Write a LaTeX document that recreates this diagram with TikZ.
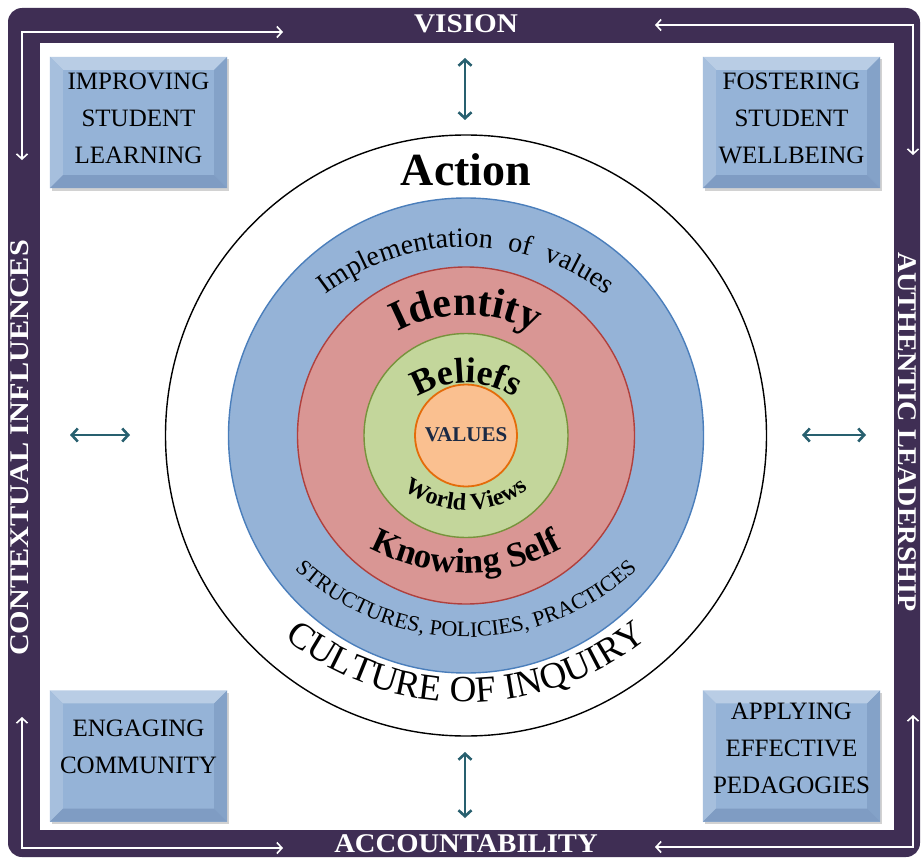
\documentclass[tikz,border=0pt]{standalone}
\usepackage{fontspec}
\setmainfont{Liberation Serif}
\usetikzlibrary{arrows.meta,decorations.text,shadows}
\definecolor{framepurple}{HTML}{3F2E54}
\definecolor{boxface}{HTML}{95B3D7}
\definecolor{bevtop}{HTML}{B9CDE5}
\definecolor{bevleft}{HTML}{A6BFDD}
\definecolor{bevright}{HTML}{84A2C8}
\definecolor{bevbot}{HTML}{7F9CC3}
\definecolor{tealarrow}{HTML}{28606F}
\definecolor{ringblue}{HTML}{95B3D7}
\definecolor{ringblueline}{HTML}{4A7EBB}
\definecolor{ringred}{HTML}{D99694}
\definecolor{ringredline}{HTML}{B0403D}
\definecolor{ringgreen}{HTML}{C3D69B}
\definecolor{ringgreenline}{HTML}{77933C}
\definecolor{ringorange}{HTML}{FAC090}
\definecolor{ringorangeline}{HTML}{E46C0A}
\definecolor{valuestext}{HTML}{1B2A44}
\newcommand{\bevelframe}[1]{%
 \fill[bevtop] (#1.north west) -- (#1.north east) -- ([xshift=-13pt,yshift=-13pt]#1.north east) -- ([xshift=13pt,yshift=-13pt]#1.north west) -- cycle;
 \fill[bevleft] (#1.north west) -- ([xshift=13pt,yshift=-13pt]#1.north west) -- ([xshift=13pt,yshift=13pt]#1.south west) -- (#1.south west) -- cycle;
 \fill[bevright] (#1.north east) -- ([xshift=-13pt,yshift=-13pt]#1.north east) -- ([xshift=-13pt,yshift=13pt]#1.south east) -- (#1.south east) -- cycle;
 \fill[bevbot] (#1.south west) -- ([xshift=13pt,yshift=13pt]#1.south west) -- ([xshift=-13pt,yshift=13pt]#1.south east) -- (#1.south east) -- cycle;
}
\begin{document}
\begin{tikzpicture}[x=1pt,y=-1pt,
  framearrow/.style={draw=white, line width=1.6pt, >={Straight Barb[length=5pt,width=11pt]}, <->},
  dblarrow/.style={draw=tealarrow, line width=2.6pt, >={Straight Barb[length=6pt,width=13pt]}, <->},
  frametext/.style={text=white, font=\bfseries\fontsize{27}{27}\selectfont, inner sep=0pt},
  boxbase/.style={fill=boxface, minimum width=177pt, minimum height=131pt, inner sep=0pt,
     drop shadow={opacity=0.35, shadow xshift=2pt, shadow yshift=-2.5pt}},
  boxtext/.style={align=center, font=\fontsize{25}{37}\selectfont, inner sep=0pt},
  ring/.style={circle, inner sep=0pt, line width=1.4pt}
]
\useasboundingbox (0,0) rectangle (922,859);
\fill[white] (0,0) rectangle (922,859);
% frame
\fill[framepurple, rounded corners=14pt] (8,8) rectangle (920,857);
\fill[white] (40,43) rectangle (894,830);
% white corner arrows
\coordinate (tlA) at (22,160); \coordinate (tlC) at (22,32); \coordinate (tlB) at (283,32);
\coordinate (trA) at (655,25); \coordinate (trC) at (913,25); \coordinate (trB) at (913,155);
\coordinate (blA) at (22,717); \coordinate (blC) at (22,848); \coordinate (blB) at (283,848);
\coordinate (brA) at (913,715); \coordinate (brC) at (913,847); \coordinate (brB) at (655,847);
\draw[framearrow] (tlA) -- (tlC) -- (tlB);
\draw[framearrow] (trA) -- (trC) -- (trB);
\draw[framearrow] (blA) -- (blC) -- (blB);
\draw[framearrow] (brA) -- (brC) -- (brB);
% frame labels
\node[frametext] (vision) at (466,24) {\scalebox{1.08}[1]{VISION}};
\node[frametext] (accountability) at (466,844) {\scalebox{1.06}[1]{ACCOUNTABILITY}};
\node[frametext, rotate=90] (contextual) at (20,448) {\scalebox{1.12}[1]{CONTEXTUAL INFLUENCES}};
\node[frametext, rotate=-90] (authentic) at (907,432) {\scalebox{1.04}[1]{AUTHENTIC LEADERSHIP}};
% corner boxes
\node[boxbase] (bTL) at (138.5,122.5) {}; \bevelframe{bTL}
\node[boxbase] (bTR) at (791.5,122.5) {}; \bevelframe{bTR}
\node[boxbase] (bBL) at (138.5,756) {}; \bevelframe{bBL}
\node[boxbase] (bBR) at (791.5,756) {}; \bevelframe{bBR}
\node[boxtext] (tTL) at (138.5,118) {IMPROVING\\STUDENT\\LEARNING};
\node[boxtext] (tTR) at (791.5,118) {FOSTERING\\STUDENT\\WELLBEING};
\node[boxtext] (tBL) at (138.5,747) {ENGAGING\\COMMUNITY};
\node[boxtext] (tBR) at (791.5,748) {APPLYING\\EFFECTIVE\\PEDAGOGIES};
% teal double arrows
\coordinate (aT1) at (465,58); \coordinate (aT2) at (465,120);
\coordinate (aB1) at (465,752); \coordinate (aB2) at (465,818);
\coordinate (aL1) at (70,435); \coordinate (aL2) at (130,435);
\coordinate (aR1) at (802,435); \coordinate (aR2) at (866,435);
\draw[dblarrow] (aT1) -- (aT2);
\draw[dblarrow] (aB1) -- (aB2);
\draw[dblarrow] (aL1) -- (aL2);
\draw[dblarrow] (aR1) -- (aR2);
% circles
\begin{scope}[shift={(466,435.5)}, y=1pt]
\node[ring, draw=black, fill=white, minimum size=601pt] (outer) at (0,0) {};
\node[ring, draw=ringblueline, fill=ringblue, minimum size=475pt] (blue) at (0,0) {};
\node[ring, draw=ringredline, fill=ringred, minimum size=337pt] (red) at (0,0) {};
\node[ring, draw=ringgreenline, fill=ringgreen, minimum size=204pt] (green) at (0,0) {};
\node[ring, draw=ringorangeline, fill=ringorange, minimum size=102pt, line width=1.8pt] (orange) at (0,0) {};
\node[font=\bfseries\fontsize{21}{21}\selectfont, text=valuestext] (values) at (0,1) {VALUES};
\node[font=\bfseries\fontsize{46}{46}\selectfont, anchor=base] (action) at (0,250.5) {Action};
\path[decorate, decoration={text along path, text align=center,
   text={|\fontsize{28}{28}\selectfont|Implementation{\hspace{15pt}}of{\hspace{15pt}}values}}]
   ([shift={(0,-41.5)}]165:230pt) arc[start angle=165, end angle=15, radius=230pt];
\path[decorate, decoration={text along path, text align=center,
   text={|\bfseries\fontsize{42}{42}\selectfont|Identity}}]
   ([shift={(0,-24.5)}]170:145pt) arc[start angle=170, end angle=10, radius=145pt];
\path[decorate, decoration={text along path, text align=center,
   text={|\bfseries\fontsize{36}{36}\selectfont|Beliefs}}]
   ([shift={(0,-37.5)}]170:90pt) arc[start angle=170, end angle=10, radius=90pt];
\path[decorate, decoration={text along path, text align=center,
   text={|\bfseries\fontsize{24}{24}\selectfont|World Views}}]
   ([shift={(0,31.5)}]200:106pt) arc[start angle=200, end angle=340, radius=106pt];
\path[decorate, decoration={text along path, text align=center,
   text={|\bfseries\fontsize{35}{35}\selectfont|Knowing Self}}]
   ([shift={(0,62.5)}]200:200pt) arc[start angle=200, end angle=340, radius=200pt];
\path[decorate, decoration={text along path, text align=center,
   text={|\fontsize{22}{22}\selectfont|STRUCTURES, POLICIES, PRACTICES}}]
   ([shift={(0,48.5)}]200:250pt) arc[start angle=200, end angle=340, radius=250pt];
\path[decorate, decoration={text along path, text align=center,
   text={|\fontsize{37}{37}\selectfont|CULTURE OF INQUIRY}}]
   ([shift={(0,23.5)}]200:290pt) arc[start angle=200, end angle=340, radius=290pt];
\end{scope}
\end{tikzpicture}
\end{document}
